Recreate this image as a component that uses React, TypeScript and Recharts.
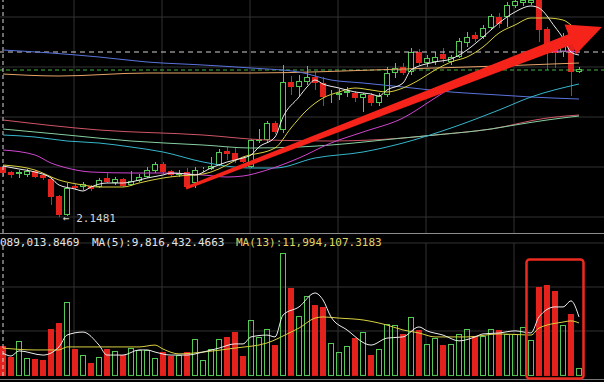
import React from "react";
import {Bar, CartesianGrid, ComposedChart, Line, ReferenceLine, XAxis, YAxis} from "recharts";

const GREEN = "#55c855";
const RED = "#e3211d";

// candles, left to right
const candleOpen = [
    2.65, 2.60, 2.58, 2.57, 2.61, 2.57, 2.53, 2.36, 2.17, 2.46,
    2.45, 2.46, 2.45, 2.54, 2.49, 2.53, 2.47, 2.51, 2.55, 2.61,
    2.68, 2.61, 2.57, 2.60, 2.49, 2.62, 2.63, 2.67, 2.81, 2.79,
    2.74, 2.65, 2.91, 2.92, 3.09, 3.02, 3.50, 3.45, 3.50, 3.55,
    3.49, 3.37, 3.37, 3.39, 3.39, 3.34, 3.37, 3.29, 3.37, 3.59,
    3.65, 3.60, 3.80, 3.69, 3.70, 3.78, 3.70, 3.75, 3.89, 3.97,
    3.95, 4.04, 4.15, 4.15, 4.26, 4.29, 4.29, 4.32, 4.03, 3.85,
    3.80, 3.90, 3.60,
];
const candleClose = [
    2.59, 2.57, 2.60, 2.61, 2.55, 2.54, 2.35, 2.17, 2.44, 2.44,
    2.48, 2.43, 2.52, 2.50, 2.53, 2.46, 2.51, 2.55, 2.62, 2.68,
    2.60, 2.57, 2.59, 2.45, 2.62, 2.63, 2.66, 2.80, 2.78, 2.72,
    2.70, 2.92, 2.93, 3.09, 3.00, 3.50, 3.45, 3.51, 3.55, 3.49,
    3.35, 3.38, 3.39, 3.41, 3.34, 3.38, 3.29, 3.36, 3.59, 3.64,
    3.59, 3.80, 3.69, 3.74, 3.75, 3.73, 3.75, 3.91, 3.95, 3.93,
    4.04, 4.16, 4.08, 4.27, 4.31, 4.32, 4.32, 4.02, 3.84, 3.79,
    3.89, 3.60, 3.63,
];
const candleHigh = [
    2.67, 2.61, 2.62, 2.63, 2.62, 2.58, 2.55, 2.37, 2.49, 2.48,
    2.50, 2.47, 2.54, 2.59, 2.55, 2.54, 2.61, 2.58, 2.65, 2.70,
    2.70, 2.62, 2.62, 2.64, 2.65, 2.65, 2.75, 2.83, 2.85, 2.85,
    2.75, 2.93, 3.03, 3.11, 3.11, 3.67, 3.56, 3.57, 3.66, 3.60,
    3.55, 3.42, 3.43, 3.45, 3.41, 3.39, 3.39, 3.39, 3.65, 3.69,
    3.69, 3.84, 3.83, 3.77, 3.80, 3.84, 3.77, 3.94, 4.00, 4.00,
    4.07, 4.18, 4.19, 4.30, 4.34, 4.35, 4.35, 4.35, 4.05, 3.92,
    3.99, 3.94, 3.65,
];
const candleLow = [
    2.56, 2.54, 2.54, 2.55, 2.54, 2.52, 2.27, 2.1481, 2.16, 2.42,
    2.42, 2.41, 2.44, 2.49, 2.47, 2.45, 2.46, 2.50, 2.54, 2.59,
    2.58, 2.55, 2.55, 2.43, 2.44, 2.60, 2.62, 2.66, 2.72, 2.69,
    2.69, 2.64, 2.89, 2.90, 2.98, 2.99, 3.37, 3.36, 3.47, 3.42,
    3.26, 3.29, 3.32, 3.35, 3.30, 3.20, 3.26, 3.26, 3.35, 3.54,
    3.57, 3.57, 3.67, 3.65, 3.67, 3.69, 3.67, 3.74, 3.85, 3.90,
    3.93, 4.02, 4.04, 4.05, 4.24, 4.26, 4.27, 3.90, 3.62, 3.64,
    3.75, 3.36, 3.59,
];
// volume, millions
const volume = [
    13.09, 8.2, 15.1, 7.7, 7.3, 6.9, 20.2, 22.8, 31.8, 11.6,
    9.0, 5.6, 8.2, 11.6, 10.8, 9.0, 12.0, 11.2, 11.2, 7.7,
    10.3, 8.6, 9.0, 10.3, 15.9, 6.9, 11.6, 15.9, 16.8, 18.9,
    8.6, 24.1, 16.8, 20.2, 13.3, 52.9, 37.8, 25.8, 34.4, 30.5,
    29.7, 14.2, 10.3, 12.9, 16.3, 18.9, 9.0, 11.6, 22.4, 21.9,
    18.1, 25.4, 19.8, 13.8, 16.3, 13.3, 13.8, 18.1, 20.2, 17.2,
    17.2, 20.2, 19.8, 18.1, 18.1, 21.1, 15.5, 38.3, 39.1, 36.6,
    21.9, 26.7, 3.4,
];

// moving averages: [candle index, value]
const ma5: [number, number][] = [[0, 2.66], [2, 2.63], [4, 2.60], [6, 2.54], [7, 2.47], [9, 2.43], [10, 2.41], [11, 2.45], [13, 2.49], [15, 2.49], [16, 2.50], [18, 2.54], [20, 2.57], [21, 2.59], [23, 2.58], [24, 2.57], [26, 2.64], [28, 2.70], [30, 2.74], [31, 2.77], [32, 2.85], [34, 2.95], [35, 3.15], [37, 3.35], [38, 3.45], [39, 3.52], [40, 3.48], [42, 3.44], [44, 3.40], [46, 3.38], [47, 3.36], [48, 3.42], [50, 3.49], [51, 3.62], [54, 3.70], [56, 3.73], [58, 3.82], [60, 3.95], [62, 4.09], [64, 4.20], [66, 4.26], [67, 4.24], [69, 4.05], [70, 3.94], [71, 3.80], [72, 3.77]];
const ma10: [number, number][] = [[0, 2.67], [4, 2.62], [7, 2.52], [10, 2.47], [12, 2.45], [15, 2.45], [17, 2.49], [20, 2.54], [22, 2.56], [25, 2.58], [26, 2.60], [30, 2.75], [34, 2.84], [36, 3.04], [38, 3.22], [40, 3.34], [42, 3.40], [44, 3.44], [46, 3.42], [48, 3.40], [50, 3.44], [52, 3.52], [54, 3.62], [56, 3.70], [58, 3.75], [60, 3.85], [62, 3.99], [64, 4.07], [66, 4.14], [68, 4.14], [70, 4.12], [71, 4.07], [72, 4.00]];
const ma20: [number, number][] = [[0, 2.82], [4, 2.77], [6, 2.69], [8, 2.64], [11, 2.60], [16, 2.59], [20, 2.59], [25, 2.57], [28, 2.55], [30, 2.56], [33, 2.62], [37, 2.74], [41, 2.89], [45, 3.00], [50, 3.14], [54, 3.34], [58, 3.54], [62, 3.69], [66, 3.79], [70, 3.81], [72, 3.80]];
const ma30: [number, number][] = [[0, 2.97], [4, 2.95], [8, 2.91], [12, 2.89], [16, 2.85], [20, 2.80], [25, 2.70], [31, 2.64], [34, 2.64], [39, 2.74], [45, 2.80], [50, 2.89], [56, 3.04], [62, 3.22], [66, 3.35], [72, 3.48]];
const ma60: [number, number][] = [[0, 3.03], [8, 2.97], [16, 2.91], [25, 2.87], [31, 2.84], [37, 2.85], [41, 2.87], [50, 2.94], [54, 2.97], [61, 3.03], [64, 3.07], [68, 3.12], [72, 3.16]];
const ma90: [number, number][] = [[0, 3.12], [12, 3.02], [25, 2.97], [33, 2.92], [41, 2.91], [50, 2.94], [54, 2.97], [61, 3.03], [68, 3.14], [72, 3.17]];
const ma120: [number, number][] = [[0, 3.82], [6, 3.79], [12, 3.75], [18, 3.70], [25, 3.67], [31, 3.64], [37, 3.60], [41, 3.52], [45, 3.49], [50, 3.45], [56, 3.40], [62, 3.37], [66, 3.35], [72, 3.33]];
const ma250: [number, number][] = [[0, 3.58], [7, 3.56], [18, 3.59], [31, 3.59], [50, 3.63], [62, 3.66], [72, 3.69]];
const volMa5: [number, number][] = [[0, 9.8], [1, 8.6], [2, 10.8], [5, 9.0], [7, 12.5], [8, 17.6], [10, 18.9], [12, 13.3], [13, 9.0], [15, 9.0], [17, 11.2], [18, 11.2], [19, 10.3], [21, 9.0], [23, 9.0], [25, 10.3], [27, 12.0], [29, 13.8], [30, 13.8], [31, 16.8], [33, 17.6], [34, 16.8], [35, 26.2], [37, 29.7], [39, 35.7], [40, 32.7], [41, 25.4], [43, 19.8], [46, 13.3], [48, 16.3], [50, 16.8], [52, 21.1], [53, 19.4], [55, 17.6], [57, 15.1], [59, 16.8], [60, 18.1], [62, 18.5], [64, 19.4], [66, 18.5], [67, 25.4], [69, 29.7], [70, 29.7], [71, 32.3], [72, 25.4]];
const volMa13: [number, number][] = [[0, 12.0], [4, 11.2], [7, 11.2], [8, 12.5], [12, 12.5], [17, 12.5], [19, 13.3], [20, 11.6], [22, 9.5], [25, 10.3], [29, 12.0], [33, 14.2], [36, 18.9], [37, 20.6], [39, 24.9], [40, 25.4], [42, 24.9], [45, 24.1], [48, 21.9], [50, 19.8], [52, 18.5], [54, 16.8], [58, 16.8], [62, 18.1], [66, 17.6], [67, 20.6], [70, 23.2], [71, 23.7], [72, 22.8]];

const crossPrice = 3.80;
const lastPrice = 3.62;
const lowLabel = "2.1481";
const volText = "089,013.8469";
const volMa5Text = "MA(5):9,816,432.4663";
const volMa13Text = "MA(13):11,994,107.3183";

const SLOTS = 76; // 73 candles + empty room on the right
const pick = (pts: [number, number][]) => {
    const m = new Map(pts);
    return (i: number) => (m.has(i) ? m.get(i) : null);
};
const lines = {ma5, ma10, ma20, ma30, ma60, ma90, ma120, ma250, volMa5, volMa13};
const getters = Object.fromEntries(Object.entries(lines).map(([k, v]) => [k, pick(v)]));

const rows = Array.from({length: SLOTS}, (_, i) => {
    const has = i < candleOpen.length;
    const row: any = {
        i,
        open: has ? candleOpen[i] : null,
        close: has ? candleClose[i] : null,
        high: has ? candleHigh[i] : null,
        low: has ? candleLow[i] : null,
        range: has ? [candleLow[i], candleHigh[i]] : null,
        vol: has ? volume[i] : null,
    };
    for (const k of Object.keys(getters)) row[k] = getters[k](i);
    return row;
});

function Candle(props: any) {
    const {x, y, width, height, payload} = props;
    if (!payload || payload.open == null) return null;
    const {open, close, high, low} = payload;
    const up = close >= open;
    const color = up ? GREEN : RED;
    const y0 = Math.min(y, y + height);
    const h = Math.abs(height);
    const span = high - low || 1;
    const py = (v: number) => y0 + ((high - v) / span) * h;
    const top = Math.round(py(Math.max(open, close)));
    const bot = Math.max(Math.round(py(Math.min(open, close))), top + 1);
    const cx = Math.floor(x + width / 2) + 0.5;
    if (up) {
        return (
            <g>
                <line x1={cx} x2={cx} y1={py(high)} y2={top} stroke={color}/>
                <line x1={cx} x2={cx} y1={bot} y2={py(low)} stroke={color}/>
                <rect x={x + 0.5} y={top + 0.5} width={width - 1} height={Math.max(bot - top - 1, 0)}
                      fill="#000" stroke={color}/>
            </g>
        );
    }
    return (
        <g>
            <line x1={cx} x2={cx} y1={py(high)} y2={py(low)} stroke={color}/>
            <rect x={x} y={top} width={width} height={bot - top} fill={color}/>
        </g>
    );
}

function VolBar(props: any) {
    const {x, y, width, height, payload} = props;
    if (!payload || payload.vol == null) return null;
    const up = payload.close >= payload.open;
    const y0 = Math.round(Math.min(y, y + height));
    const h = Math.abs(height);
    if (up) {
        return <rect x={x + 0.5} y={y0 + 0.5} width={width - 1} height={Math.max(h - 1, 0)}
                     fill="none" stroke={GREEN}/>;
    }
    return <rect x={x} y={y0} width={width} height={h} fill={RED}/>;
}

const maLine = (key: string, color: string) => (
    <Line key={key} dataKey={key} stroke={color} strokeWidth={1} dot={false} activeDot={false}
          connectNulls type="monotone" isAnimationActive={false}/>
);

const vGrid = [74, 162, 250, 338, 426, 514];
const font = "'DejaVu Sans Mono', monospace";

export default function App() {
    return (
        <div style={{position: "fixed", left: 0, top: 0, width: 604, height: 382, background: "#000", overflow: "hidden"}}>
            <style>{"body{margin:0;background:#000}"}</style>
            <div style={{position: "absolute", left: 0, top: 0}}>
                <ComposedChart width={604} height={233} data={rows}
                               margin={{top: 0, right: -3, bottom: 0, left: -1}}>
                    <CartesianGrid stroke="#333" horizontalPoints={[17, 67, 117, 167, 217]}
                                   verticalPoints={vGrid}/>
                    <XAxis dataKey="i" hide/>
                    <YAxis hide domain={[1.99, 4.32]} allowDataOverflow/>
                    <ReferenceLine y={crossPrice} stroke="#d0d0d0" strokeDasharray="5 4"/>
                    <ReferenceLine y={lastPrice} stroke="#46b446" strokeDasharray="4 3"/>
                    <ReferenceLine x={0} stroke="#d8d8d8" strokeDasharray="4 3"/>
                    {maLine("ma250", "#e8a468")}
                    {maLine("ma120", "#5a74dc")}
                    {maLine("ma90", "#cf5566")}
                    {maLine("ma60", "#86d0a0")}
                    {maLine("ma30", "#36b6cc")}
                    {maLine("ma20", "#cf45cf")}
                    <Bar dataKey="range" barSize={6} shape={Candle} isAnimationActive={false}/>
                    {maLine("ma10", "#d8d040")}
                    {maLine("ma5", "#ececec")}
                </ComposedChart>
            </div>
            <div style={{position: "absolute", left: 0, top: 233}}>
                <ComposedChart width={604} height={149} data={rows}
                               margin={{top: 10, right: -3, bottom: 6, left: -1}}>
                    <CartesianGrid stroke="#333" horizontalPoints={[10, 54, 98]} verticalPoints={vGrid}/>
                    <XAxis dataKey="i" hide/>
                    <YAxis hide domain={[0, 57.19]} allowDataOverflow/>
                    <ReferenceLine x={0} stroke="#d8d8d8" strokeDasharray="4 3"/>
                    <Bar dataKey="vol" barSize={6} shape={VolBar} isAnimationActive={false}/>
                    {maLine("volMa13", "#d8d040")}
                    {maLine("volMa5", "#ececec")}
                </ComposedChart>
            </div>
            <svg width={604} height={382} style={{position: "absolute", left: 0, top: 0, pointerEvents: "none"}}>
                <line x1={0} x2={604} y1={233.5} y2={233.5} stroke="#8c8c8c"/>
                <line x1={0} x2={604} y1={379.5} y2={379.5} stroke="#777"/>
                <text x={63} y={222} fill="#d4d4d4" fontSize={11} fontFamily={font}>{"\u2190 " + lowLabel}</text>
                <text x={0} y={246} fill="#e4e4e4" fontSize={11} fontFamily={font}>{volText}</text>
                <text x={92} y={246} fill="#e4e4e4" fontSize={11} fontFamily={font}>{volMa5Text}</text>
                <text x={236} y={246} fill="#e0d468" fontSize={11} fontFamily={font}>{volMa13Text}</text>
                <polygon fill="#f5231a"
                         points="185.5,186.6 568.3,34.2 564.5,24.4 602,27 576.1,54.2 572.3,44.4 186.5,189.4"/>
                <rect x={526.5} y={259.5} width={57} height={119} rx={3} fill="none" stroke="#ec2a20" strokeWidth={2.5}/>
            </svg>
        </div>
    );
}
